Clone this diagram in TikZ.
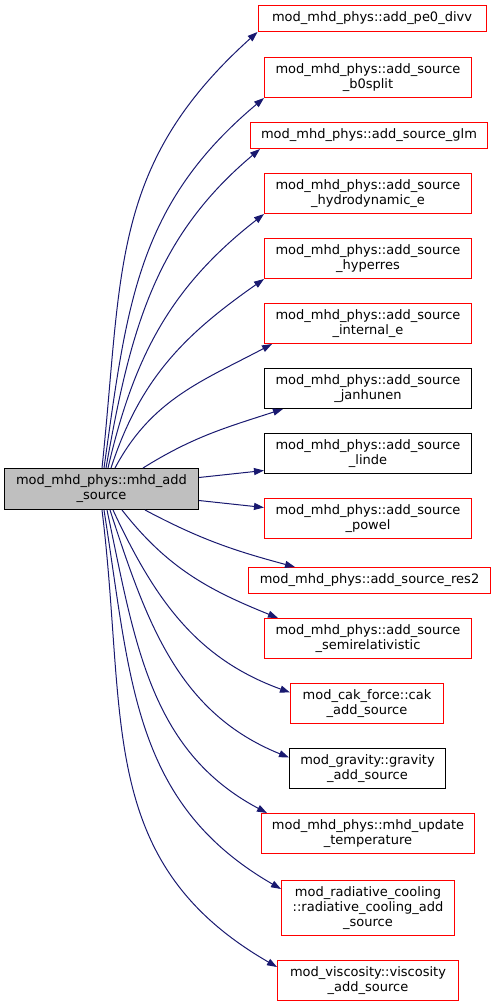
\documentclass[tikz,border=0pt]{standalone}
\usepackage{fontspec}
\setmainfont{DejaVu Sans}
\usetikzlibrary{arrows.meta}
\definecolor{edgeblue}{HTML}{191970}
\definecolor{boxred}{HTML}{FF0000}
\definecolor{maingray}{HTML}{BFBFBF}
\tikzset{
  box/.style={rectangle, inner sep=0pt, align=center, line width=1pt,
    font=\fontsize{13}{15}\selectfont},
  redbox/.style={box, draw=boxred},
  blackbox/.style={box, draw=black},
  mainbox/.style={box, draw=black, fill=maingray},
  call/.style={draw=edgeblue, line width=1pt,
    -{Triangle[length=10pt,width=7pt,fill=edgeblue]}},
}
\begin{document}
\begin{tikzpicture}[x=1pt,y=-1pt]
\useasboundingbox (0,0) rectangle (495,1007);
\node[mainbox, minimum width=194pt, minimum height=41pt] (main) at (101.5,489) {mod\_mhd\_phys::mhd\_add\\\_source};

\node[redbox, minimum width=228pt, minimum height=26pt] (pe0) at (372,18.5) {mod\_mhd\_phys::add\_pe0\_divv};
\node[redbox, minimum width=207pt, minimum height=40pt] (b0) at (368,77.5) {mod\_mhd\_phys::add\_source\\\_b0split};
\node[redbox, minimum width=237pt, minimum height=26pt] (glm) at (369,135.5) {mod\_mhd\_phys::add\_source\_glm};
\node[redbox, minimum width=207pt, minimum height=40pt] (hydro) at (368,193.5) {mod\_mhd\_phys::add\_source\\\_hydrodynamic\_e};
\node[redbox, minimum width=207pt, minimum height=40pt] (hyper) at (368,258.5) {mod\_mhd\_phys::add\_source\\\_hyperres};
\node[redbox, minimum width=207pt, minimum height=40pt] (inte) at (368,323.5) {mod\_mhd\_phys::add\_source\\\_internal\_e};
\node[blackbox, minimum width=207pt, minimum height=40pt] (jan) at (368,388.5) {mod\_mhd\_phys::add\_source\\\_janhunen};
\node[blackbox, minimum width=207pt, minimum height=40pt] (linde) at (368,453.5) {mod\_mhd\_phys::add\_source\\\_linde};
\node[redbox, minimum width=207pt, minimum height=40pt] (powel) at (368,518.5) {mod\_mhd\_phys::add\_source\\\_powel};
\node[redbox, minimum width=242pt, minimum height=26pt] (res2) at (369.5,580.5) {mod\_mhd\_phys::add\_source\_res2};
\node[redbox, minimum width=207pt, minimum height=40pt] (semi) at (368,638.5) {mod\_mhd\_phys::add\_source\\\_semirelativistic};
\node[redbox, minimum width=153pt, minimum height=40pt] (cak) at (367,703.5) {mod\_cak\_force::cak\\\_add\_source};
\node[blackbox, minimum width=156pt, minimum height=40pt] (grav) at (367.5,768.5) {mod\_gravity::gravity\\\_add\_source};
\node[redbox, minimum width=213pt, minimum height=40pt] (temp) at (368,833.5) {mod\_mhd\_phys::mhd\_update\\\_temperature};
\node[redbox, minimum width=173pt, minimum height=55pt] (rad) at (368,908) {mod\_radiative\_cooling\\::radiative\_cooling\_add\\\_source};
\node[redbox, minimum width=181pt, minimum height=40pt] (visc) at (368,980.5) {mod\_viscosity::viscosity\\\_add\_source};

% edges above
\draw[call] ([xshift=98pt]main.north west) to[out=84,in=222,looseness=1.1] (pe0.south west);
\draw[call] ([xshift=100pt]main.north west) to[out=82,in=220,looseness=1.05] (b0.south west);
\draw[call] ([xshift=102pt]main.north west) to[out=80,in=220] ([xshift=10pt]glm.south west);
\draw[call] ([xshift=104pt]main.north west) to[out=77,in=218] (hydro.south west);
\draw[call] ([xshift=107pt]main.north west) to[out=72,in=215] (hyper.south west);
\draw[call] ([xshift=111pt]main.north west) to[out=62,in=208] ([xshift=8pt]inte.south west);
\draw[call] ([xshift=139pt]main.north west) to[out=32,in=198] ([xshift=19pt]jan.south west);
% side edges
\draw[call] ([yshift=11.5pt]main.east) -- ([yshift=-17pt]linde.west);
\draw[call] ([yshift=-11.5pt]main.east) -- ([yshift=11pt]powel.west);
% edges below
\draw[call] ([xshift=141pt]main.south west) to[out=-28,in=165] ([xshift=47pt]res2.north west);
\draw[call] ([xshift=118pt]main.south west) to[out=-52,in=158] ([xshift=14pt]semi.north west);
\draw[call] ([xshift=109pt]main.south west) to[out=-65,in=160] ([yshift=11pt]cak.west);
\draw[call] ([xshift=106pt]main.south west) to[out=-72,in=158] ([yshift=11pt]grav.west);
\draw[call] ([xshift=103pt]main.south west) to[out=-78,in=152] ([xshift=6pt]temp.north west);
\draw[call] ([xshift=100pt]main.south west) to[out=-81,in=150,looseness=1.05] ([yshift=-9pt]rad.north west);
\draw[call] ([xshift=98pt]main.south west) to[out=-83,in=150,looseness=1.1] ([yshift=-7pt]visc.north west);
\end{tikzpicture}
\end{document}
